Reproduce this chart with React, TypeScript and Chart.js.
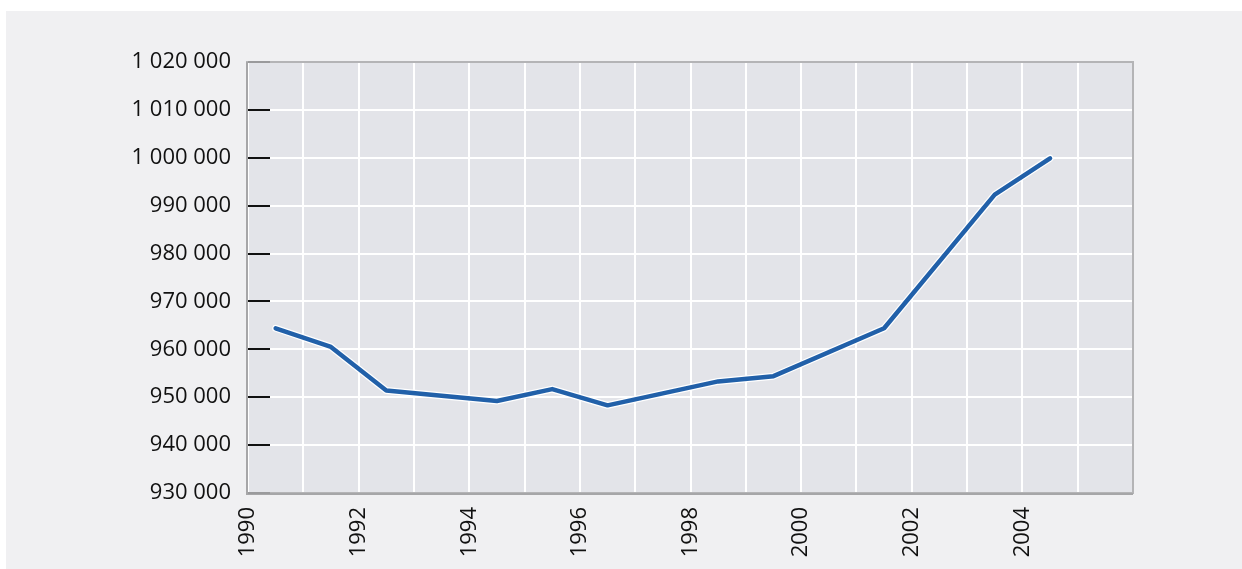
import React, { useEffect, useRef } from "react";
import { Chart, registerables } from "chart.js";

Chart.register(...registerables);

const years: number[] = [1990.5, 1991.5, 1992.5, 1994.5, 1995.5, 1996.5, 1998.5, 1999.5, 2001.5, 2003.5, 2004.5];
const values: number[] = [964400, 960500, 951400, 949200, 951700, 948300, 953300, 954400, 964400, 992300, 999900];
const xRange: number[] = [1990, 2006];
const xLabelYears: number[] = [1990, 1992, 1994, 1996, 1998, 2000, 2002, 2004];
const yRange: number[] = [930000, 1020000];
const yStep = 10000;

const fmt = (v: number) => String(v).replace(/\B(?=(\d{3})+(?!\d))/g, " ");

const frame = {
  id: "frame",
  beforeDraw(chart: any) {
    const { ctx, chartArea: a } = chart;
    ctx.save();
    ctx.fillStyle = "#e3e4e9";
    ctx.fillRect(a.left, a.top, a.right - a.left, a.bottom - a.top);
    ctx.restore();
  },
  afterDraw(chart: any) {
    const { ctx, chartArea: a } = chart;
    const y = chart.scales.y;
    ctx.save();
    ctx.strokeStyle = "#b4b4b6";
    ctx.lineWidth = 2;
    ctx.strokeRect(a.left - 1, a.top, a.right - a.left + 1, a.bottom - a.top);
    ctx.strokeStyle = "#a6a6a8";
    ctx.beginPath();
    ctx.moveTo(a.left - 1, a.top);
    ctx.lineTo(a.left - 1, a.bottom + 1);
    ctx.lineTo(a.right, a.bottom + 1);
    ctx.stroke();
    y.ticks.forEach((t: any, i: number) => {
      const py = Math.round(y.getPixelForValue(t.value));
      const end = i === 0 || i === y.ticks.length - 1;
      ctx.strokeStyle = end ? "#9a9a9c" : "#111111";
      ctx.lineWidth = 2;
      ctx.beginPath();
      ctx.moveTo(a.left, py);
      ctx.lineTo(a.left + 22, py);
      ctx.stroke();
    });
    ctx.restore();
  },
};

export default function App() {
  const ref = useRef<HTMLCanvasElement>(null);
  useEffect(() => {
    if (!ref.current) return;
    const pts = years.map((x, i) => ({ x, y: values[i] }));
    const font = { family: "'Open Sans', sans-serif", size: 22 };
    const chart = new Chart(ref.current, {
      type: "line",
      data: {
        datasets: [
          {
            data: pts,
            borderColor: "#2160a9",
            borderWidth: 4.5,
            pointRadius: 0,
            tension: 0,
            borderCapStyle: "round",
            borderJoinStyle: "round",
          },
          {
            data: pts,
            borderColor: "#ffffff",
            borderWidth: 7,
            pointRadius: 0,
            tension: 0,
            borderCapStyle: "round",
            borderJoinStyle: "round",
          },
        ],
      },
      options: {
        animation: false,
        responsive: false,
        devicePixelRatio: 1,
        layout: { padding: { top: 51, right: 109, left: 0, bottom: 0 } },
        plugins: { legend: { display: false }, tooltip: { enabled: false } },
        scales: {
          x: {
            type: "linear",
            min: xRange[0],
            max: xRange[1],
            afterFit: (s: any) => {
              s.height = 76;
            },
            grid: { color: "#ffffff", lineWidth: 2, drawTicks: false },
            border: { display: false },
            ticks: {
              stepSize: 1,
              autoSkip: false,
              maxRotation: 90,
              minRotation: 90,
              padding: 14,
              color: "#111111",
              font,
              callback: (v: any) => (xLabelYears.includes(Number(v)) ? String(v) : ""),
            },
          },
          y: {
            min: yRange[0],
            max: yRange[1],
            afterFit: (s: any) => {
              s.width = 242;
            },
            grid: { color: "#ffffff", lineWidth: 2, drawTicks: false },
            border: { display: false },
            ticks: {
              stepSize: yStep,
              padding: 17,
              color: "#111111",
              font,
              callback: (v: any) => fmt(Number(v)),
            },
          },
        },
      },
      plugins: [frame],
    } as any);
    return () => chart.destroy();
  }, []);
  return (
    <div
      style={{
        position: "fixed",
        left: 6,
        top: 11,
        width: 1236,
        height: 558,
        background: "#f0f0f2",
      }}
    >
      <canvas ref={ref} width={1236} height={558} style={{ display: "block" }} />
    </div>
  );
}
